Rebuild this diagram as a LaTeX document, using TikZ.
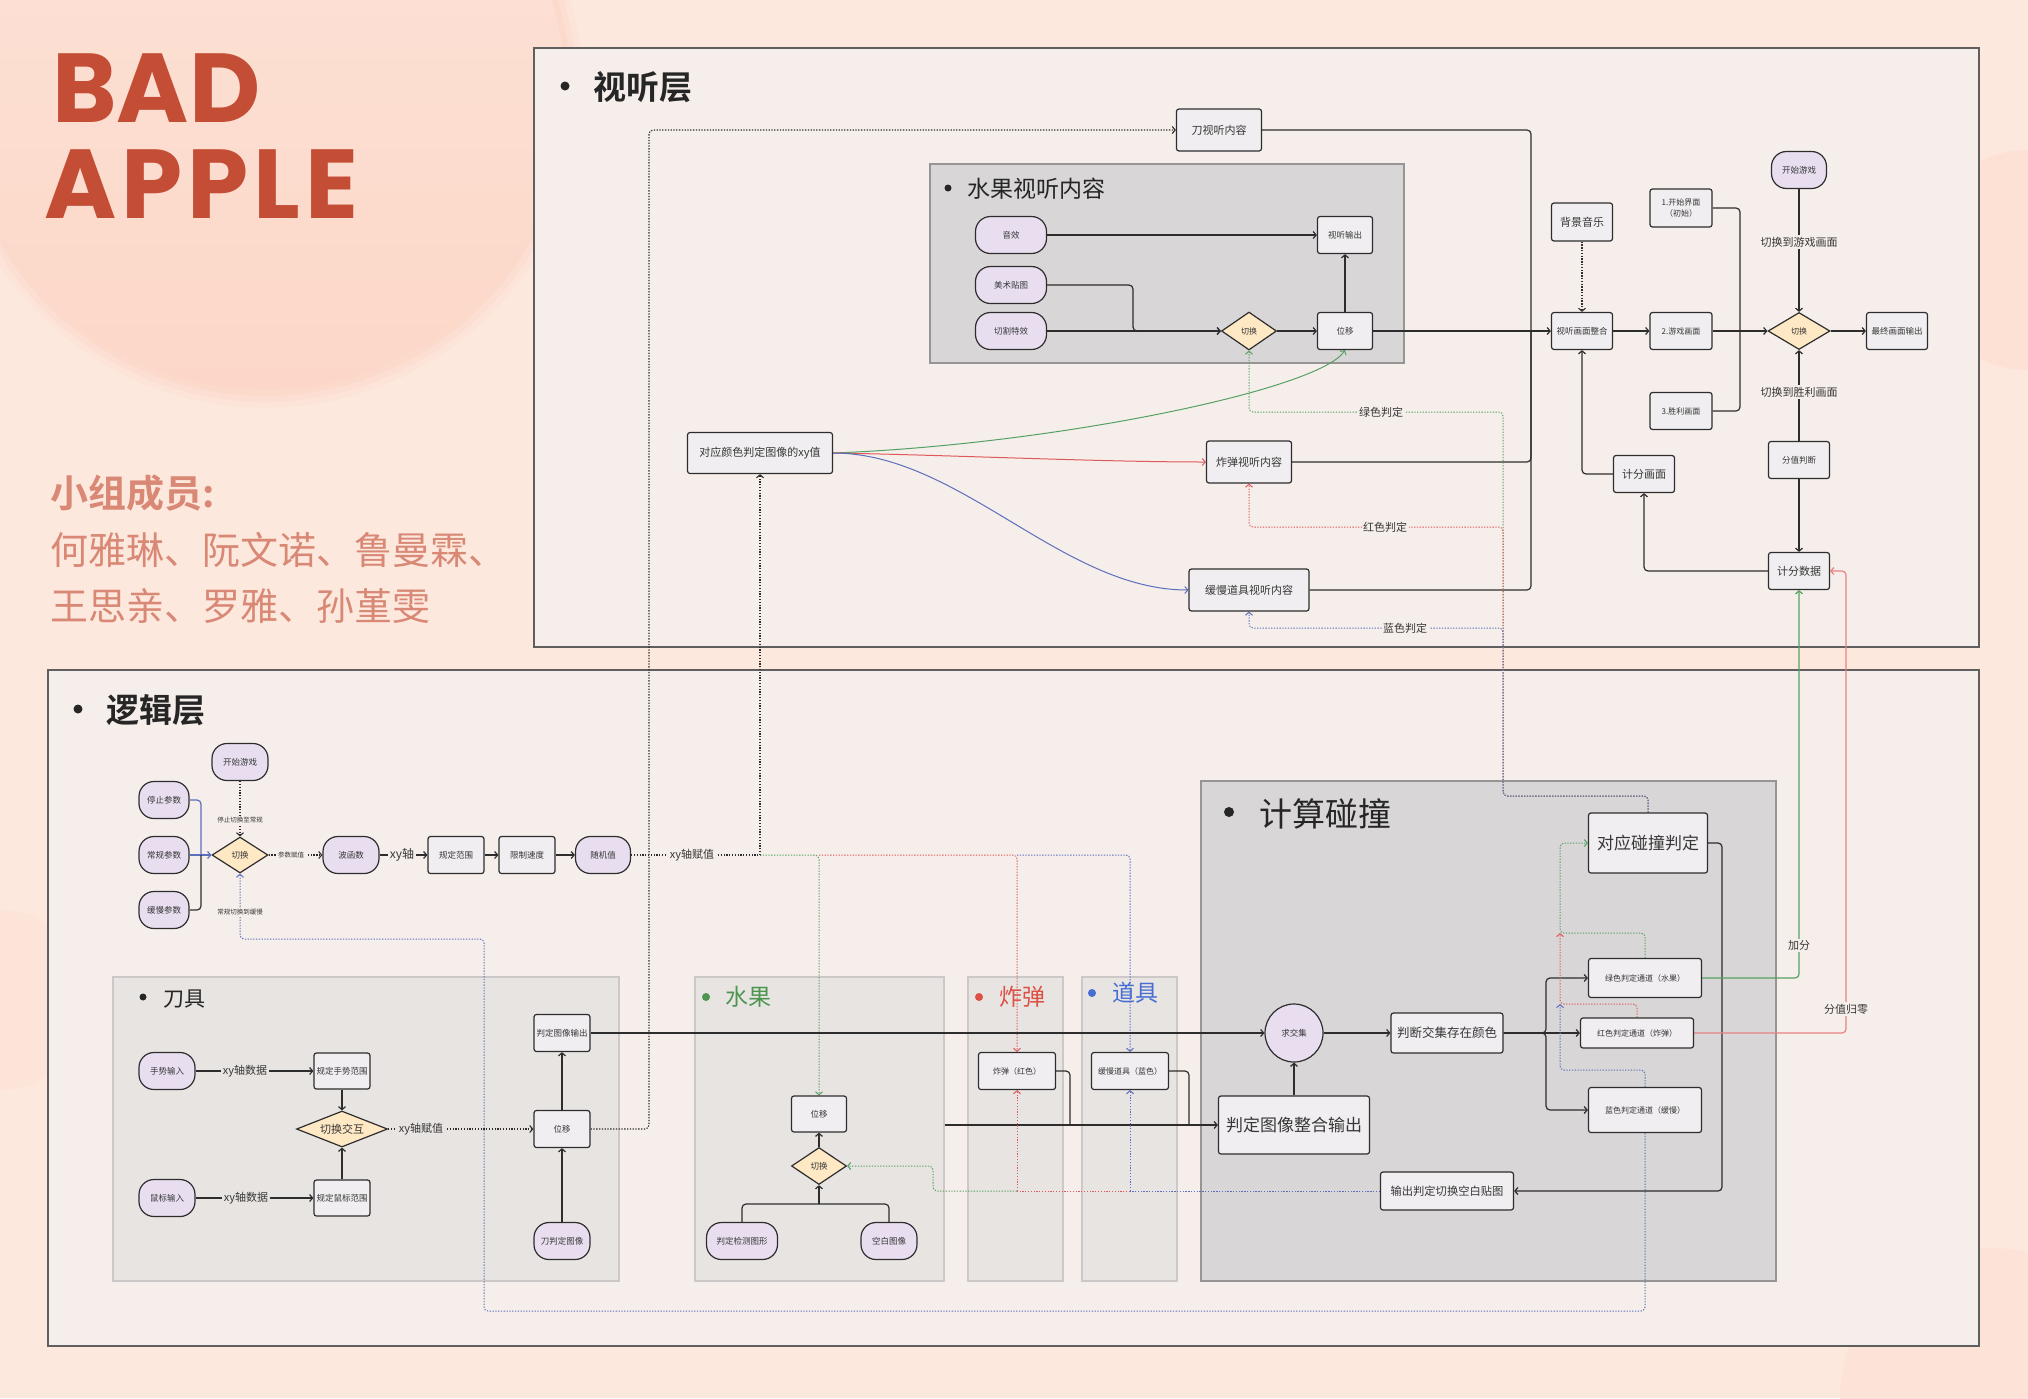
\documentclass[tikz,border=0pt]{standalone}
\usepackage{fontspec}
\setmainfont{Noto Sans CJK SC}[BoldFont={Noto Sans CJK SC Bold}]
\newfontfamily\titlefont{Poppins}[UprightFont={* Bold}]
\usetikzlibrary{shapes.geometric,arrows.meta}
\pgfdeclarelayer{bg}\pgfdeclarelayer{edges}
\pgfsetlayers{bg,edges,main}
\newcommand\fz[1]{\fontsize{#1}{#1}\selectfont}
\definecolor{bgc}{RGB}{253,232,222}
\definecolor{blobc}{RGB}{252,215,199}
\definecolor{layerc}{RGB}{246,238,234}
\definecolor{layerline}{RGB}{95,95,95}
\definecolor{grpA}{RGB}{216,214,214}
\definecolor{grpAline}{RGB}{150,148,148}
\definecolor{grpB}{RGB}{232,228,226}
\definecolor{grpBline}{RGB}{205,200,200}
\definecolor{stadc}{RGB}{232,222,240}
\definecolor{boxc}{RGB}{240,238,240}
\definecolor{diac}{RGB}{255,232,196}
\definecolor{edgec}{RGB}{45,45,45}
\definecolor{txtc}{RGB}{55,55,55}
\definecolor{gr}{RGB}{86,160,100}
\definecolor{rd}{RGB}{222,90,90}
\definecolor{bl}{RGB}{92,110,190}
\definecolor{rdsoft}{RGB}{232,130,130}
\definecolor{titlec}{RGB}{196,77,54}
\definecolor{memc}{RGB}{216,136,116}
\definecolor{grT}{RGB}{76,150,80}
\definecolor{rdT}{RGB}{220,80,70}
\definecolor{blT}{RGB}{70,110,210}
\tikzset{
  nd/.style={draw=edgec, line width=1.2pt, text=txtc, inner sep=1pt, align=center},
  stad/.style={nd, fill=stadc, rounded corners=15pt, minimum width=56pt, minimum height=37pt},
  boxn/.style={nd, fill=boxc, rounded corners=2.5pt, minimum width=56pt, minimum height=37pt},
  dia/.style={nd, diamond, fill=diac, aspect=1.5, minimum width=56pt, minimum height=37pt, inner sep=0pt},
  grpbA/.style={draw=grpAline, fill=grpA, line width=1.5pt, inner sep=0pt},
  grpbB/.style={draw=grpBline, fill=grpB, line width=1.5pt, inner sep=0pt},
  f8/.style={font=\fz{8}}, f85/.style={font=\fz{8.5}}, f11/.style={font=\fz{11}},
  tip/.style={-{Straight Barb[length=3pt,width=7pt]}},
  ln/.style={draw=edgec, line width=1.2pt, rounded corners=4pt},
  conn/.style={ln, tip},
  dotk/.style={draw=edgec, line width=1.1pt, dash pattern=on 1.3pt off 1.5pt, rounded corners=4pt},
  dotkA/.style={dotk, tip},
  gdot/.style={dotk, draw=gr, line width=1pt},
  rdot/.style={dotk, draw=rd, line width=1pt},
  bdot/.style={dotk, draw=bl, line width=1pt},
  gdotA/.style={gdot, tip}, rdotA/.style={rdot, tip}, bdotA/.style={bdot, tip},
  lbl/.style={fill=layerc, inner sep=1.5pt, text=txtc, font=\fz{11}},
  lblK/.style={lbl, fill=grpB},
  ttl/.style={anchor=west, inner sep=0pt, text=black!85},
}
\begin{document}
\begin{tikzpicture}[x=1pt,y=-1pt]
\useasboundingbox (0,0) rectangle (2028,1398);
\begin{pgfonlayer}{bg}
\fill[bgc] (0,0) rectangle (2028,1398);
\foreach \r/\o in {318/0.2,312/0.35,306/0.55}{\fill[blobc, opacity=\o] (265,90) circle (\r);}
\shade[top color=bgc!80!blobc, bottom color=blobc] (265,90) circle (300);
\fill[blobc!40!bgc] (2028,260) circle (110);
\fill[blobc!30!bgc] (1990,1398) circle (150);
\fill[blobc!25!bgc] (0,1000) circle (90);
\fill[layerc, draw=layerline, line width=1.6pt] (534,48) rectangle (1979,647);
\fill[layerc, draw=layerline, line width=1.6pt] (48,670) rectangle (1979,1346);
\node[grpbA, minimum width=474pt, minimum height=199pt] (gFAV) at (1167,263.5) {};
\node[grpbB, minimum width=506pt, minimum height=304pt] (gKnife) at (366,1129) {};
\node[grpbB, minimum width=249pt, minimum height=304pt] (gFruit) at (819.5,1129) {};
\node[grpbB, minimum width=95pt, minimum height=304pt] (gBomb) at (1015.5,1129) {};
\node[grpbB, minimum width=95pt, minimum height=304pt] (gProp) at (1129.5,1129) {};
\node[grpbA, minimum width=575pt, minimum height=500pt] (gColl) at (1488.5,1031) {};
\end{pgfonlayer}

% titles
\node[anchor=base west, inner sep=0pt, font=\titlefont\fontsize{98}{98}\selectfont, text=titlec] (t1) at (52,122) {BAD};
\node[anchor=base west, inner sep=0pt, font=\titlefont\fontsize{98}{98}\selectfont\addfontfeature{LetterSpace=5}, text=titlec] (t2) at (44,218) {APPLE};
\node[anchor=west, inner sep=0pt, font=\bfseries\fz{38}, text=memc] (m0) at (50,493) {小组成员:};
\node[anchor=west, inner sep=0pt, font=\fz{38}, text=memc] (m1) at (50,550) {何雅琳、阮文诺、鲁曼霖、};
\node[anchor=west, inner sep=0pt, font=\fz{38}, text=memc] (m2) at (50,606) {王思亲、罗雅、孙堇雯};

% layer titles
\fill[black!85] (565,86) circle (4.5);
\node[ttl, font=\bfseries\fz{33}] (lt1) at (593,87) {视听层};
\fill[black!85] (78,709) circle (4.5);
\node[ttl, font=\bfseries\fz{33}] (lt2) at (106,710) {逻辑层};
\fill[black!85] (948,188) circle (3.5);
\node[ttl, font=\fz{23}] (gt1) at (967,189) {水果视听内容};
\fill[black!85] (1229,812) circle (5);
\node[ttl, font=\fz{33}] (gt2) at (1259,814) {计算碰撞};
\fill[black!85] (143,997) circle (3.5);
\node[ttl, font=\fz{21}] (gt3) at (163,999) {刀具};
\fill[grT] (706,997) circle (4);
\node[ttl, font=\fz{23}, text=grT] (gt4) at (725,997) {水果};
\fill[rdT] (979,997) circle (4);
\node[ttl, font=\fz{23}, text=rdT] (gt5) at (999,997) {炸弹};
\fill[blT] (1092,993) circle (4);
\node[ttl, font=\fz{23}, text=blT] (gt6) at (1112,993) {道具};

% ---------- top layer nodes
\node[boxn,f11, minimum width=85pt, minimum height=42pt] (dAV) at (1219,130) {刀视听内容};
\node[stad,f85, minimum width=71pt] (yx) at (1011,235) {音效};
\node[stad,f85, minimum width=71pt] (mstt) at (1011,285) {美术贴图};
\node[stad,f85, minimum width=71pt] (qgtx) at (1011,331) {切割特效};
\node[boxn,f85, minimum width=55pt] (sto) at (1345,235) {视听输出};
\node[boxn,f85, minimum width=55pt] (wy1) at (1345,331) {位移};
\node[dia,f8, minimum width=55pt, minimum height=38pt] (qh1) at (1249,331) {切换};
\node[boxn,f11, minimum width=145pt, minimum height=41pt] (dyc) at (760,453) {对应颜色判定图像的xy值};
\node[boxn,f11, minimum width=85pt, minimum height=42pt] (bombAV) at (1249,462) {炸弹视听内容};
\node[boxn,f11, minimum width=120pt, minimum height=42pt] (slowAV) at (1249,590) {缓慢道具视听内容};
\node[boxn,f11, minimum width=61pt, minimum height=38pt] (bgm) at (1582,222) {背景音乐};
\node[boxn,f85, minimum width=61pt] (merge) at (1582,331) {视听画面整合};
\node[boxn, font=\fontsize{8}{11}\selectfont, minimum width=62pt, minimum height=38pt] (s1) at (1681,208) {1.开始界面\\（初始）};
\node[boxn,f8, minimum width=62pt] (s2) at (1681,331) {2.游戏画面};
\node[boxn,f8, minimum width=62pt] (s3) at (1681,411) {3.胜利画面};
\node[stad,f85, minimum width=55pt] (st2) at (1799,170) {开始游戏};
\node[dia,f8, minimum width=62pt] (qh2) at (1799,331) {切换};
\node[boxn,f85, minimum width=61pt] (final) at (1897,331) {最终画面输出};
\node[boxn,f85, minimum width=61pt] (fzpd) at (1799,460) {分值判断};
\node[boxn,f11, minimum width=61pt] (jfsj) at (1799,571) {计分数据};
\node[boxn,f11, minimum width=61pt] (jfhm) at (1644,474) {计分画面};

\node[lbl] (l1) at (1799,242) {切换到游戏画面};
\node[lbl] (l2) at (1799,392) {切换到胜利画面};
\node[lbl] (l3) at (1381,412) {绿色判定};
\node[lbl] (l4) at (1385,527) {红色判定};
\node[lbl] (l5) at (1405,628) {蓝色判定};

% ---------- logic layer nodes
\node[stad,f85] (ks) at (240,762) {开始游戏};
\node[stad,f85, minimum width=50pt] (tz) at (164,800) {停止参数};
\node[stad,f85, minimum width=50pt] (cg) at (164,855) {常规参数};
\node[stad,f85, minimum width=50pt] (hm) at (164,910) {缓慢参数};
\node[dia,f85, minimum height=36pt] (qh3) at (240,855) {切换};
\node[stad,f85] (bhs) at (351,855) {波函数};
\node[boxn,f85] (gdfw) at (456,855) {规定范围};
\node[boxn,f85] (xzsd) at (527,855) {限制速度};
\node[stad,f85, minimum width=55pt] (sjz) at (603,855) {随机值};

\node[lbl, font=\fz{6.5}] (l6) at (240,820) {停止切换至常规};
\node[lbl, font=\fz{6.5}] (l7) at (240,912) {常规切换到缓慢};
\node[lbl, font=\fz{6.5}] (l8) at (291,855) {参数赋值};
\node[lbl, font=\fz{12}] (l9) at (402,855) {xy轴};
\node[lbl] (l10) at (692,855) {xy轴赋值};

% knife
\node[stad,f85] (sx) at (167,1071) {手势输入};
\node[stad,f85] (sb) at (167,1198) {鼠标输入};
\node[boxn,f85, minimum height=36pt] (gdsx) at (342,1071) {规定手势范围};
\node[boxn,f85, minimum height=36pt] (gdsb) at (342,1198) {规定鼠标范围};
\node[dia, font=\fz{11}, aspect=2.5, minimum width=91pt, minimum height=36pt] (qhjh) at (342,1129) {切换交互};
\node[boxn,f85] (pdout) at (562,1033) {判定图像输出};
\node[boxn,f85] (kwy) at (562,1129) {位移};
\node[stad,f85] (kdp) at (562,1241) {刀判定图像};
\node[lblK] (l11) at (245,1071) {xy轴数据};
\node[lblK] (l12) at (246,1198) {xy轴数据};
\node[lblK] (l13) at (421,1129) {xy轴赋值};

% fruit / bomb / prop
\node[boxn,f85, minimum width=55pt, minimum height=36pt] (fwy) at (819,1114) {位移};
\node[dia,f85, minimum width=55pt] (fqh) at (819,1166) {切换};
\node[stad,f85, minimum width=71pt] (pdjc) at (742,1241) {判定检测图形};
\node[stad,f85] (kbtx) at (889,1241) {空白图像};
\node[boxn,f8, minimum width=77pt] (bomb) at (1017,1071) {炸弹（红色）};
\node[boxn,f8, minimum width=77pt] (slowp) at (1130,1071) {缓慢道具（蓝色）};

% collision
\node[boxn, font=\fz{17}, minimum width=119pt, minimum height=60pt] (dyhp) at (1648,843) {对应碰撞判定};
\node[nd, circle, fill=stadc, minimum size=58pt, f85] (qjj) at (1294,1033) {求交集};
\node[boxn, font=\fz{12.5}, minimum width=112pt, minimum height=40pt] (pdcol) at (1447,1033) {判断交集存在颜色};
\node[boxn, font=\fz{17}, minimum width=151pt, minimum height=58pt] (zhout) at (1294,1125) {判定图像整合输出};
\node[boxn,f8, minimum width=113pt, minimum height=39pt] (gch) at (1645,978) {绿色判定通道（水果）};
\node[boxn,f8, minimum width=113pt, minimum height=30pt] (rch) at (1637,1033) {红色判定通道（炸弹）};
\node[boxn,f8, minimum width=113pt, minimum height=45pt] (bch) at (1645,1110) {蓝色判定通道（缓慢）};
\node[boxn, font=\fz{11.3}, minimum width=133pt, minimum height=38pt] (shkt) at (1447,1191) {输出判定切换空白贴图};
\node[lbl] (l14) at (1799,945) {加分};
\node[lbl] (l15) at (1846,1009) {分值归零};

\coordinate (xa) at (760,855);
\coordinate (xb) at (819,855);
\coordinate (xc) at (1017,855);
\coordinate (fm) at (819,1204);
\coordinate (ob) at (1130,1191);
\coordinate (orr) at (1017,1191);

\begin{pgfonlayer}{edges}
% top layer
\draw[conn] (yx.east) -- (sto.west);
\draw[conn] (mstt.east) -- (1133,285) |- (qh1.west);
\draw[conn] (qgtx.east) -- (qh1.west);
\draw[conn] (qh1.east) -- (wy1.west);
\draw[conn] (wy1.north) -- (sto.south);
\draw[conn] (wy1.east) -- (merge.west);
\draw[ln] (dAV.east) -- (1531,130) -- (1531,331);
\draw[ln] (bombAV.east) -- (1531,462) -- (1531,331);
\draw[ln] (slowAV.east) -- (1531,590) -- (1531,331);
\draw[dotkA] (bgm.south) -- (merge.north);
\draw[conn] (merge.east) -- (s2.west);
\draw[ln] (s1.east) -- (1740,208) -- (1740,331);
\draw[ln] (s3.east) -- (1740,411) -- (1740,331);
\draw[conn] (s2.east) -- (qh2.west);
\draw[conn] (st2.south) -- (qh2.north);
\draw[conn] (fzpd.north) -- (qh2.south);
\draw[conn] (qh2.east) -- (final.west);
\draw[conn] (fzpd.south) -- (jfsj.north);
\draw[conn] (jfsj.west) -| (jfhm.south);
\draw[conn] (jfhm.west) -| (merge.south);
\draw[tip, draw=gr, line width=1pt] (dyc.east) .. controls (1050,445) and (1320,390) .. (wy1.south);
\draw[tip, draw=rd, line width=1pt] (dyc.east) .. controls (950,455) and (1100,462) .. (bombAV.west);
\draw[tip, draw=bl, line width=1pt] (dyc.east) .. controls (960,453) and (1062,590) .. (slowAV.west);
\draw[gdotA] (dyhp.north) |- (1503,796) -- (1503,412) -| (qh1.south);
\draw[rdotA] (dyhp.north) |- (1503,796) -- (1503,527) -| (bombAV.south);
\draw[bdotA] (dyhp.north) |- (1503,796) -- (1503,628) -| (slowAV.south);
\draw[dotkA] (kwy.east) -| (649,130) -- (dAV.west);
% logic
\draw[dotk] (sjz.east) -- (xa);
\draw[dotkA] (xa) -- (dyc.south);
\draw[gdotA] (xa) -| (fwy.north);
\draw[rdotA] (xb) -| (bomb.north);
\draw[bdotA] (xc) -| (slowp.north);
\draw[ln, draw=bl] (tz.east) -- (201,800) -- (201,855);
\draw[conn, draw=bl] (cg.east) -- (qh3.west);
\draw[ln] (hm.east) -- (201,910) -- (201,855);
\draw[dotkA] (ks.south) -- (qh3.north);
\draw[dotkA] (qh3.east) -- (bhs.west);
\draw[conn] (bhs.east) -- (gdfw.west);
\draw[conn] (gdfw.east) -- (xzsd.west);
\draw[conn] (xzsd.east) -- (sjz.west);
\draw[bdotA] (bch.south) -- (1645,1311) -- (484,1311) -- (484,939) -| (qh3.south);
% knife
\draw[conn] (sx.east) -- (gdsx.west);
\draw[conn] (sb.east) -- (gdsb.west);
\draw[conn] (gdsx.south) -- (qhjh.north);
\draw[conn] (gdsb.north) -- (qhjh.south);
\draw[dotkA] (qhjh.east) -- (kwy.west);
\draw[conn] (kdp.north) -- (kwy.south);
\draw[conn] (kwy.north) -- (pdout.south);
\draw[conn] (pdout.east) -- (qjj.west);
% fruit
\draw[ln] (pdjc.north) |- (fm);
\draw[ln] (kbtx.north) |- (fm);
\draw[conn] (fm) -- (fqh.south);
\draw[conn] (fqh.north) -- (fwy.south);
\draw[conn] (gFruit.east |- zhout.west) -- (zhout.west);
\draw[ln] (bomb.east) -- (1070,1071) -- (1070,1125);
\draw[ln] (slowp.east) -- (1189,1071) -- (1189,1125);
\draw[bdot] (shkt.west) -- (ob);
\draw[bdotA] (ob) -- (slowp.south);
\draw[rdot] (ob) -- (orr);
\draw[rdotA] (orr) -- (bomb.south);
\draw[gdotA] (orr) -- (933,1191) |- (fqh.east);
% collision
\draw[conn] (zhout.north) -- (qjj.south);
\draw[conn] (qjj.east) -- (pdcol.west);
\draw[conn] (pdcol.east) -- (1546,1033) |- (gch.west);
\draw[conn] (pdcol.east) -- (rch.west);
\draw[conn] (pdcol.east) -- (1546,1033) |- (bch.west);
\draw[conn] (dyhp.east) -- (1722,843) |- (shkt.east);
\draw[gdotA] (gch.north) -- (1645,933) -- (1560,933) |- (dyhp.west);
\draw[rdotA] (rch.north) -- (1637,1004) -- (1560,1004) -- (1560,933);
\draw[bdotA] (bch.north) -- (1645,1070) -- (1560,1070) -- (1560,1004);
\draw[conn, draw=gr] (gch.east) -| (jfsj.south);
\draw[conn, draw=rdsoft] (rch.east) -- (1846,1033) |- (jfsj.east);
\end{pgfonlayer}
\end{tikzpicture}
\end{document}
